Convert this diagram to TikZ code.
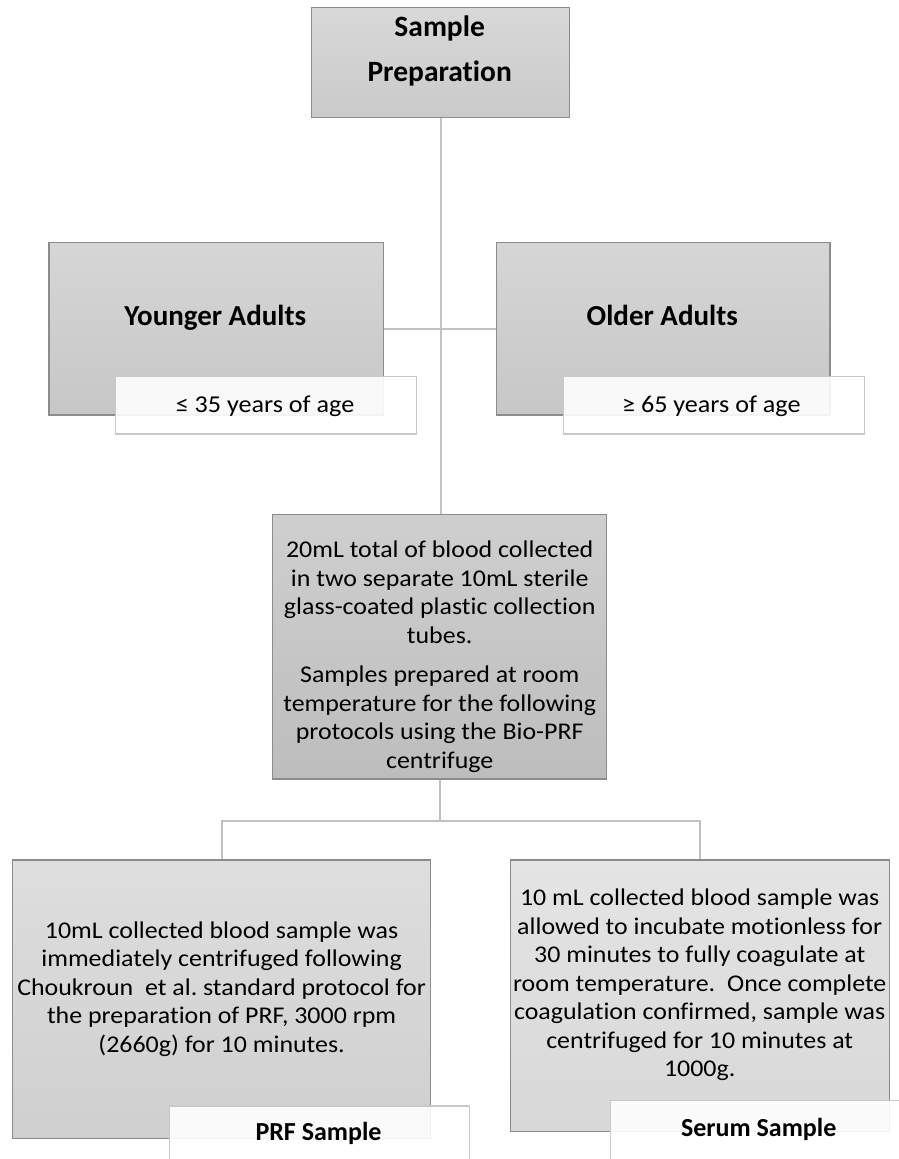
\documentclass[tikz,border=0pt]{standalone}
\usepackage{fontspec}
\setmainfont{Carlito}[Ligatures={NoCommon}]
\newfontfamily\bodyfont{Carlito}[FakeStretch=1.08, Ligatures={NoCommon}]
\usetikzlibrary{backgrounds}
\frenchspacing
\definecolor{boxline}{HTML}{8C8C8C}
\definecolor{subline}{HTML}{C8C8C8}
\definecolor{connline}{HTML}{C2C2C2}
\tikzset{
  box/.style={draw=boxline, line width=1.2pt, inner sep=0pt, rectangle},
  subbox/.style={draw=subline, line width=1.2pt, fill=white, fill opacity=0.9, inner sep=0pt, rectangle},
  conn/.style={draw=connline, line width=2pt},
  txt/.style={anchor=base, inner sep=0pt, text=black},
  bodytxt/.style={txt, font=\bodyfont\fontsize{24}{28.5}\selectfont},
}
\begin{document}
\begin{tikzpicture}[x=1pt,y=-1pt]
\clip (0,0) rectangle (899,1159);
% boxes
\node[box, top color={rgb,255:red,216;green,216;blue,216}, bottom color={rgb,255:red,202;green,202;blue,202}, minimum width=257.6pt, minimum height=110pt] (prep) at (440.5,62.3) {};
\node[box, top color={rgb,255:red,214;green,214;blue,214}, bottom color={rgb,255:red,199;green,199;blue,199}, minimum width=334.3pt, minimum height=172.7pt] (young) at (216.15,328.65) {};
\node[box, top color={rgb,255:red,214;green,214;blue,214}, bottom color={rgb,255:red,199;green,199;blue,199}, minimum width=333.3pt, minimum height=172.7pt] (old) at (663.35,328.65) {};
\node[box, top color={rgb,255:red,207;green,207;blue,207}, bottom color={rgb,255:red,189;green,189;blue,189}, minimum width=334pt, minimum height=264.3pt] (coll) at (439.7,646.85) {};
\node[box, top color={rgb,255:red,222;green,222;blue,222}, bottom color={rgb,255:red,207;green,207;blue,207}, minimum width=418.4pt, minimum height=278.3pt] (prf) at (221.5,999.15) {};
\node[box, top color={rgb,255:red,228;green,228;blue,228}, bottom color={rgb,255:red,216;green,216;blue,216}, minimum width=379.4pt, minimum height=271.5pt] (serum) at (700,995.75) {};
% connectors
\begin{scope}[on background layer]
\draw[conn] (prep.south) -- (prep.south |- coll.north);
\draw[conn] (young.east) -- (old.west);
\draw[conn] (coll.south) -- ++(0,41) coordinate (junc);
\draw[conn] (prf.north) -- (prf.north |- junc) -- (serum.north |- junc) -- (serum.north);
\end{scope}
% sub boxes
\node[subbox, minimum width=301pt, minimum height=57.3pt] (youngsub) at (266.2,405.35) {};
\node[subbox, minimum width=300.8pt, minimum height=57.3pt] (oldsub) at (714.1,405.35) {};
\node[subbox, minimum width=300pt, minimum height=60pt] (prfsub) at (319.3,1136) {};
\node[subbox, minimum width=297.7pt, minimum height=60pt] (serumsub) at (759.2,1130.5) {};
% texts
\node[txt, font=\bfseries\fontsize{29.5}{45.7}\selectfont] (preptxt) at (439.7,36) {\begin{tabular}[t]{@{}c@{}}Sample\\Preparation\end{tabular}};
\node[txt, font=\bfseries\fontsize{29}{34}\selectfont] (youngtxt) at (215.3,325) {Younger Adults};
\node[txt, font=\bfseries\fontsize{29}{34}\selectfont] (oldtxt) at (662.3,325) {Older Adults};
\node[txt, font=\bodyfont\fontsize{24.2}{28}\selectfont] (youngsubtxt) at (265,412.7) {≤ 35 years of age};
\node[txt, font=\bodyfont\fontsize{24.2}{28}\selectfont] (oldsubtxt) at (711.3,412.7) {≥ 65 years of age};
\node[bodytxt] (colltxt) at (439.7,557.5) {\begin{tabular}[t]{@{}c@{}}20mL total of blood collected\\in two separate 10mL sterile\\glass-coated plastic collection\\tubes.\\[11pt]Samples prepared at room\\temperature for the following\\protocols using the Bio-PRF\\centrifuge\end{tabular}};
\node[bodytxt] (prftxt) at (221.6,938.3) {\begin{tabular}[t]{@{}c@{}}10mL collected blood sample was\\immediately centrifuged following\\Choukroun\hspace{0.25em} et al. standard protocol for\\the preparation of PRF, 3000 rpm\\(2660g) for 10 minutes.\end{tabular}};
\node[bodytxt] (serumtxt) at (699.7,905.7) {\begin{tabular}[t]{@{}c@{}}10 mL collected blood sample was\\allowed to incubate motionless for\\30 minutes to fully coagulate at\\room temperature.\hspace{0.25em} Once complete\\coagulation confirmed, sample was\\centrifuged for 10 minutes at\\1000g.\end{tabular}};
\node[txt, font=\bfseries\fontsize{26}{30}\selectfont] (prfsubtxt) at (318.5,1140.7) {PRF Sample};
\node[txt, font=\bfseries\fontsize{26}{30}\selectfont] (serumsubtxt) at (758.7,1136.7) {Serum Sample};
\end{tikzpicture}
\end{document}
